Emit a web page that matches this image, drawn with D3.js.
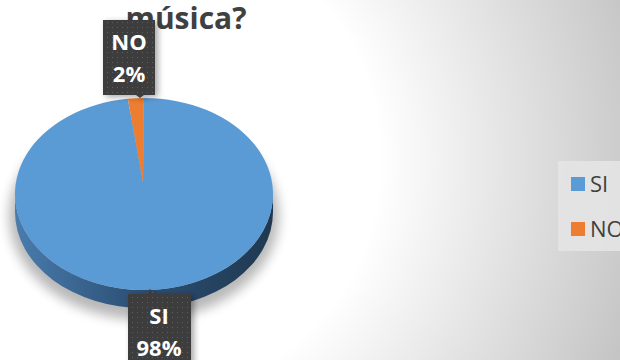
<!DOCTYPE html>
<html><head><meta charset="utf-8">
<script src="https://cdn.jsdelivr.net/npm/d3@7/dist/d3.min.js"></script>
<style>html,body{margin:0;padding:0;overflow:hidden;background:#fff}svg{display:block}</style>
</head><body>
<script>
const categories = ["SI", "NO"];
const values = [98, 2];
const percentLabels = ["98%", "2%"];
const colors = ["#5b9bd5", "#ed7d31"];
const titleText = "música?";

const W = 620, H = 360;
const svg = d3.select("body").append("svg").attr("width", W).attr("height", H);
const defs = svg.append("defs");

// background radial gradient
const bg = defs.append("radialGradient").attr("id", "bg").attr("gradientUnits", "userSpaceOnUse")
  .attr("cx", 140).attr("cy", 160).attr("r", 520);
bg.append("stop").attr("offset", "0.46").attr("stop-color", "#ffffff");
bg.append("stop").attr("offset", "1").attr("stop-color", "#c4c4c4");
svg.append("rect").attr("width", W).attr("height", H).attr("fill", "url(#bg)");

// side gradient
const sg = defs.append("linearGradient").attr("id", "side").attr("x1", 0).attr("x2", 1).attr("y1", 0).attr("y2", 0);
sg.append("stop").attr("offset", "0").attr("stop-color", "#4a7cae");
sg.append("stop").attr("offset", "0.45").attr("stop-color", "#2d5277");
sg.append("stop").attr("offset", "1").attr("stop-color", "#1f3850");

const blur = defs.append("filter").attr("id", "blur").attr("x", "-30%").attr("y", "-30%").attr("width", "160%").attr("height", "160%");
blur.append("feGaussianBlur").attr("stdDeviation", 6);

const ds = defs.append("filter").attr("id", "ds").attr("x", "-30%").attr("y", "-30%").attr("width", "170%").attr("height", "170%");
ds.append("feDropShadow").attr("dx", 3).attr("dy", 2).attr("stdDeviation", 3).attr("flood-color", "#000").attr("flood-opacity", 0.35);

// dotted pattern for labels
const pat = defs.append("pattern").attr("id", "dots").attr("patternUnits", "userSpaceOnUse").attr("width", 5).attr("height", 5);
pat.append("rect").attr("width", 5).attr("height", 5).attr("fill", "#3e3e3e");
pat.append("rect").attr("x", 2).attr("y", 2).attr("width", 1).attr("height", 1).attr("fill", "#5e5e5e");

// pie geometry
const cx = 144, cy = 194, rx = 129, ry = 96, depth = 18;
const apex = [143, 182];
const P = a => [cx + rx * Math.sin(a), cy - ry * Math.cos(a)];

// shadow
svg.append("ellipse").attr("cx", cx).attr("cy", cy + depth + 4).attr("rx", rx + 6).attr("ry", ry + 8)
  .attr("fill", "#000").attr("opacity", 0.28).attr("filter", "url(#blur)");

// side
svg.append("path")
  .attr("d", `M${cx - rx},${cy} A${rx},${ry} 0 0 0 ${cx + rx},${cy} L${cx + rx},${cy + depth} A${rx},${ry} 0 0 1 ${cx - rx},${cy + depth} Z`)
  .attr("fill", "url(#side)");

const pie = d3.pie().sort(null).startAngle(0).endAngle(2 * Math.PI);
const arcs = pie(values);

svg.append("g").selectAll("path").data(arcs).join("path")
  .attr("d", d => {
    const p0 = P(d.startAngle), p1 = P(d.endAngle);
    const large = (d.endAngle - d.startAngle) > Math.PI ? 1 : 0;
    return `M${apex[0]},${apex[1]} L${p0[0]},${p0[1]} A${rx},${ry} 0 ${large} 1 ${p1[0]},${p1[1]} Z`;
  })
  .attr("fill", (d, i) => colors[i]);

// title
svg.append("text").attr("x", 186).attr("y", 29).attr("text-anchor", "middle")
  .attr("font-family", "'Open Sans', sans-serif").attr("font-weight", 700).attr("font-size", 30)
  .attr("fill", "#404040").text(titleText);

// data labels
const labelSpec = [
  { box: [128, 294, 63, 80], tip: [150, 289], dir: "up", tx: 159, ty: [324, 356] },
  { box: [103, 20, 52, 75], tip: [140, 98], dir: "down", tx: 129, ty: [50, 82] }
];
const lg = svg.append("g");
arcs.forEach((d, i) => {
  const s = labelSpec[i];
  const [x, y, w, h] = s.box;
  const g = lg.append("g").attr("filter", "url(#ds)");
  let path;
  if (s.dir === "up") {
    path = `M${x},${y} L${s.tip[0] - 5},${y} L${s.tip[0]},${s.tip[1]} L${s.tip[0] + 5},${y} L${x + w},${y} L${x + w},${y + h} L${x},${y + h} Z`;
  } else {
    path = `M${x},${y} L${x + w},${y} L${x + w},${y + h} L${s.tip[0] + 4},${y + h} L${s.tip[0]},${s.tip[1]} L${s.tip[0] - 4},${y + h} L${x},${y + h} Z`;
  }
  g.append("path").attr("d", path).attr("fill", "url(#dots)");
  [categories[i], percentLabels[i]].forEach((t, k) => {
    lg.append("text").attr("x", s.tx).attr("y", s.ty[k]).attr("text-anchor", "middle")
      .attr("font-family", "'Open Sans', sans-serif").attr("font-weight", 700).attr("font-size", 22)
      .attr("fill", "#ffffff").text(t);
  });
});

// legend
const leg = svg.append("g");
leg.append("rect").attr("x", 558).attr("y", 161).attr("width", 70).attr("height", 90).attr("fill", "#e4e4e4").attr("opacity", 0.9);
categories.forEach((c, i) => {
  const y = 177 + i * 45;
  leg.append("rect").attr("x", 571).attr("y", y).attr("width", 14).attr("height", 14).attr("fill", colors[i]);
  leg.append("text").attr("x", 590).attr("y", y + 15).attr("font-family", "'Open Sans', sans-serif")
    .attr("font-size", 22).attr("fill", "#404040").text(c);
});
</script>
</body></html>
